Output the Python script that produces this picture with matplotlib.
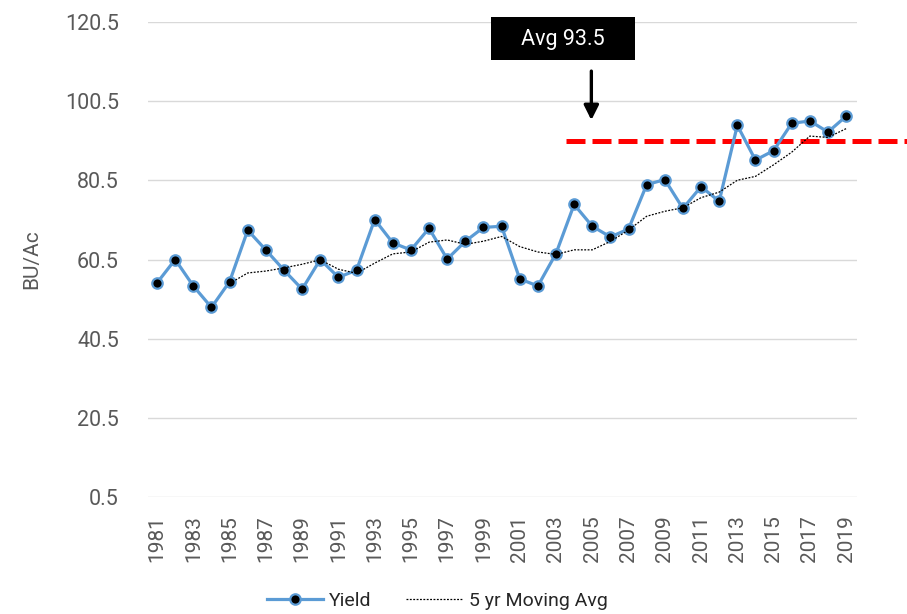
import matplotlib
matplotlib.use('Agg')
import matplotlib.pyplot as plt
from matplotlib.patches import Rectangle

# Data
years = list(range(1981, 2020))
yield_bu = [54.6, 60.5, 53.8, 48.4, 54.9, 67.9, 62.9, 57.8, 53.0, 60.5,
            56.0, 57.8, 70.6, 64.7, 62.9, 68.4, 60.6, 65.1, 68.6, 68.9,
            55.6, 53.8, 62.0, 74.4, 68.9, 66.2, 68.2, 79.4, 80.7, 73.4,
            78.9, 75.2, 94.4, 85.6, 88.0, 94.9, 95.5, 92.7, 96.7]
ma_years = list(range(1985, 2020))
moving_avg = [54.44, 57.10, 57.58, 58.38, 59.30, 60.42, 58.04, 57.02, 59.58, 61.92,
              62.40, 64.88, 65.44, 64.34, 65.12, 66.32, 63.76, 62.40, 61.78, 62.94,
              62.94, 65.06, 67.94, 71.42, 72.68, 73.58, 76.12, 77.52, 80.52, 81.50,
              84.42, 87.62, 91.68, 91.34, 93.56]
avg_level = 90.5
avg_label = "Avg 93.5"
avg_start_year = 2003.55
yticks = [0.5, 20.5, 40.5, 60.5, 80.5, 100.5, 120.5]
xticks = list(range(1981, 2020, 2))

plt.rcParams['font.family'] = ['Roboto', 'DejaVu Sans']

W, H = 907, 614
fig = plt.figure(figsize=(W / 100, H / 100), dpi=100)
ax = fig.add_axes([148 / W, 1 - 497 / H, (857 - 148) / W, (497 - 22) / H])

grey = '#595959'
blue = '#5B9BD5'

ax.plot(years, yield_bu, color=blue, lw=2.3, marker='o', ms=7.5,
        mfc='black', mec=blue, mew=1.6, label='Yield', zorder=3)
ax.plot(ma_years, moving_avg, color='black', lw=0.9, ls=(0, (1.5, 1.2)),
        label='5 yr Moving Avg', zorder=4)

# red average line running out past the plot area
ax.plot([avg_start_year, 2022.5], [avg_level, avg_level], color='#FF0000',
        lw=3.6, ls=(0, (3.8, 1.4)), clip_on=False, zorder=2)

ax.set_xlim(1980.5, 2019.6)
ax.set_ylim(0.5, 120.5)
ax.set_yticks(yticks)
ax.set_yticklabels([f"{v:.1f}" for v in yticks])
ax.set_xticks(xticks)
ax.set_xticklabels([str(y) for y in xticks], rotation=90)
ax.tick_params(axis='y', length=0, pad=21, labelsize=15.5, labelcolor=grey)
ax.tick_params(axis='x', length=0, pad=13, labelsize=15, labelcolor=grey)
ax.grid(axis='y', color='#D9D9D9', lw=1)
ax.set_axisbelow(True)
for s in ax.spines.values():
    s.set_visible(False)
ax.set_ylabel('BU/Ac', fontsize=15, color=grey, labelpad=17)

# label box and arrow
fig.patches.append(Rectangle((491 / W, 1 - 60 / H), (635 - 491) / W, (60 - 17) / H,
                             transform=fig.transFigure, facecolor='black',
                             edgecolor='none', zorder=5))
fig.text(563 / W, 1 - 39 / H, avg_label, color='white', fontsize=15.5,
         ha='center', va='center', zorder=6)
ax.annotate('', xy=(2004.95, 95.0), xytext=(2004.95, 108.8),
            arrowprops=dict(arrowstyle='-|>', color='black', lw=2.4,
                            mutation_scale=22), annotation_clip=False)

fig.legend(loc='center', bbox_to_anchor=(437 / W, 1 - 601 / H), ncol=2,
           frameon=False, fontsize=14, handlelength=2.9, handletextpad=0.3,
           columnspacing=1.8, labelcolor='#262626')

fig.savefig('out.png', dpi=100)
